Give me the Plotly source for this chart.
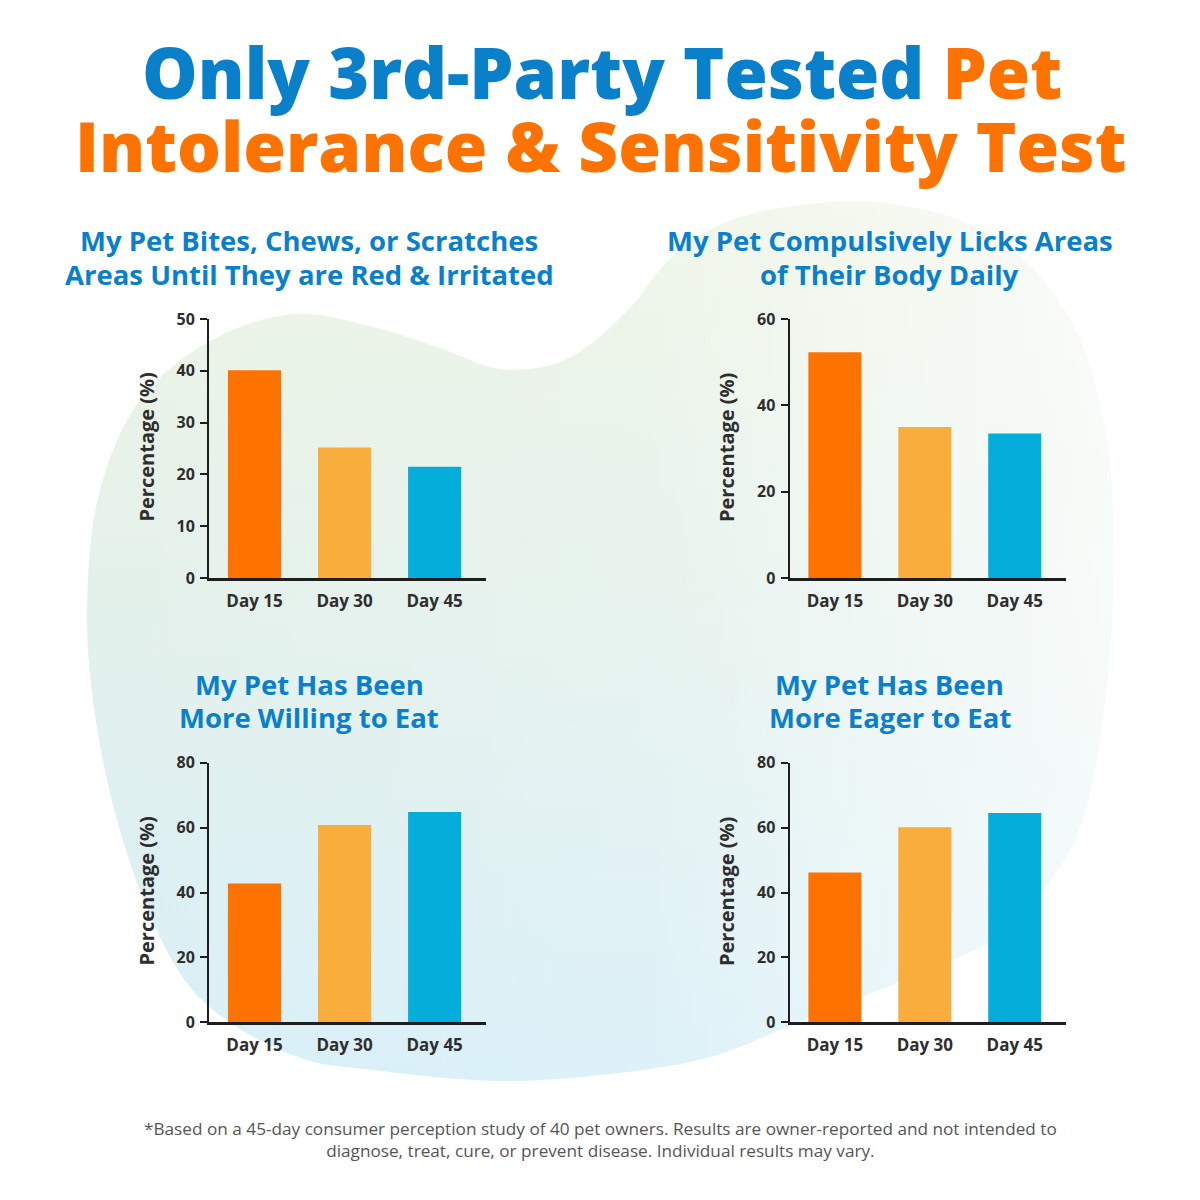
import plotly.graph_objects as go

# ---------------- data ----------------
days = ["Day 15", "Day 30", "Day 45"]
bites_scratches = [40.1, 25.2, 21.5]
licks_areas = [52.3, 35.0, 33.5]
willing_to_eat = [42.8, 60.8, 64.8]
eager_to_eat = [46.2, 60.1, 64.5]

chart_titles = [
    ["My Pet Bites, Chews, or Scratches", "Areas Until They are Red & Irritated"],
    ["My Pet Compulsively Licks Areas", "of Their Body Daily"],
    ["My Pet Has Been", "More Willing to Eat"],
    ["My Pet Has Been", "More Eager to Eat"],
]
y_ticks = [
    [0, 10, 20, 30, 40, 50],
    [0, 20, 40, 60],
    [0, 20, 40, 60, 80],
    [0, 20, 40, 60, 80],
]
y_max = [50, 60, 80, 80]
bar_colors = ["#FE7300", "#F9AD3C", "#05ADDA"]

# decorative background blob outline (pixel space)
blob_x = [293, 373, 440, 500, 565, 631, 666, 720, 800, 900, 1000, 1070, 1105, 1113, 1105,
          1080, 1043, 997, 910, 810, 710, 600, 500, 373, 307, 240, 190, 147, 113, 93, 87,
          100, 140, 207, 293]
blob_y = [314, 327, 348, 369, 360, 307, 263, 225, 205, 205, 240, 320, 430, 560, 700,
          827, 890, 937, 977, 1017, 1057, 1075, 1081, 1070, 1060, 1029, 987, 908, 805, 700, 605,
          490, 400, 343, 314]

W = H = 1200
OFF = 8          # page body margin compensation
FONT = "Open Sans"
BLUE = "#0A80CB"
ORANGE = "#FE7300"
DARK = "#2E2E2E"


def px(xp):
    return (xp - OFF) / W


def py(yp):
    return 1 - (yp - OFF) / H


fig = go.Figure()

# background blob on a full-page axis
fig.add_trace(go.Scatter(
    x=blob_x, y=blob_y, mode="lines", line=dict(width=0, shape="spline", smoothing=1.0),
    fill="toself",
    fillgradient=dict(type="vertical", start=200, stop=1080,
                      colorscale=[[0, "#EDF4E4"], [0.5, "#E3F1EC"], [1, "#D7EFF8"]]),
    hoverinfo="skip", showlegend=False, xaxis="x", yaxis="y"))
fig.add_trace(go.Scatter(
    x=blob_x, y=blob_y, mode="lines", line=dict(width=0, shape="spline", smoothing=1.0),
    fill="toself",
    fillgradient=dict(type="horizontal", start=90, stop=1110,
                      colorscale=[[0, "rgba(255,255,255,0)"], [0.55, "rgba(255,255,255,0.15)"],
                                  [1, "rgba(255,255,255,0.7)"]]),
    hoverinfo="skip", showlegend=False, xaxis="x", yaxis="y"))

layout = dict(
    template="none",
    width=W, height=H, margin=dict(l=0, r=0, t=0, b=0, pad=0, autoexpand=False),
    paper_bgcolor="white", plot_bgcolor="rgba(0,0,0,0)",
    showlegend=False,
    xaxis=dict(domain=[0, 1], range=[OFF, W + OFF], visible=False, fixedrange=True, automargin=False),
    yaxis=dict(domain=[0, 1], range=[H + OFF, OFF], visible=False, fixedrange=True, automargin=False),
)

# subplot geometry in reference pixels: (left, right, top, bottom)
boxes = [
    (209, 486, 319, 578),
    (789.5, 1066, 319, 578),
    (209, 486, 762.7, 1022.3),
    (789.5, 1066, 762.7, 1022.3),
]
series = [bites_scratches, licks_areas, willing_to_eat, eager_to_eat]

annotations = []
for i, (vals, (l, r, t, b)) in enumerate(zip(series, boxes)):
    k = i + 2
    xa, ya = f"x{k}", f"y{k}"
    fig.add_trace(go.Bar(x=days, y=vals, marker=dict(color=bar_colors, line=dict(width=0)),
                         xaxis=xa, yaxis=ya, hoverinfo="skip", width=0.59))
    layout[f"xaxis{k}"] = dict(
        domain=[px(l), px(r)], anchor=ya, range=[-0.505, 2.57], automargin=False,
        showline=True, linecolor="#1E1E1E", linewidth=2.5, ticks="", showgrid=False,
        zeroline=False, tickfont=dict(family=FONT, size=17, color=DARK, weight=700),
        ticklabelstandoff=6,
    )
    layout[f"yaxis{k}"] = dict(
        domain=[py(b), py(t)], anchor=xa, range=[0, y_max[i]], automargin=False,
        tickvals=y_ticks[i], showline=True, linecolor="#1E1E1E", linewidth=2,
        ticks="outside", ticklen=7, tickwidth=2, tickcolor="#1E1E1E", showgrid=False,
        zeroline=False, tickfont=dict(family=FONT, size=16, color=DARK, weight=700),
        ticklabelstandoff=2,
    )
    cx = (l + r) / 2 - 38
    # chart titles (two lines, tighter spacing)
    for j, line in enumerate(chart_titles[i]):
        annotations.append(dict(
            text=line, x=px(cx), y=py(t - 76 + 33 * j - 2), xref="paper", yref="paper",
            xanchor="center", yanchor="middle", showarrow=False, align="center",
            font=dict(family=FONT, size=27.5, color=BLUE, weight=700)))
    # y axis titles
    annotations.append(dict(
        text="Percentage (%)", x=px(l - 63), y=py((t + b) / 2 - 1),
        xref="paper", yref="paper", xanchor="center", yanchor="middle",
        textangle=-90, showarrow=False,
        font=dict(family=FONT, size=20, color=DARK, weight=700)))

# main title
annotations.append(dict(
    text=f"<span style='color:{BLUE}'>Only 3rd-Party Tested</span> <span style='color:{ORANGE}'>Pet</span>",
    x=px(602), y=py(71.5), xref="paper", yref="paper", xanchor="center", yanchor="middle",
    showarrow=False, font=dict(family=FONT, size=70, color=BLUE, weight=800)))
annotations.append(dict(
    text="Intolerance & Sensitivity Test",
    x=px(600), y=py(145), xref="paper", yref="paper", xanchor="center", yanchor="middle",
    showarrow=False, font=dict(family=FONT, size=69, color=ORANGE, weight=800)))

# footnote
annotations.append(dict(
    text="*Based on a 45-day consumer perception study of 40 pet owners. Results are owner-reported and not intended to<br>"
         "diagnose, treat, cure, or prevent disease. Individual results may vary.",
    x=px(600), y=py(1139), xref="paper", yref="paper", xanchor="center", yanchor="middle",
    showarrow=False, align="center",
    font=dict(family=FONT, size=17.2, color="#555555", weight=400)))

layout["annotations"] = annotations
fig.update_layout(**layout)
fig.write_html("out.html")
